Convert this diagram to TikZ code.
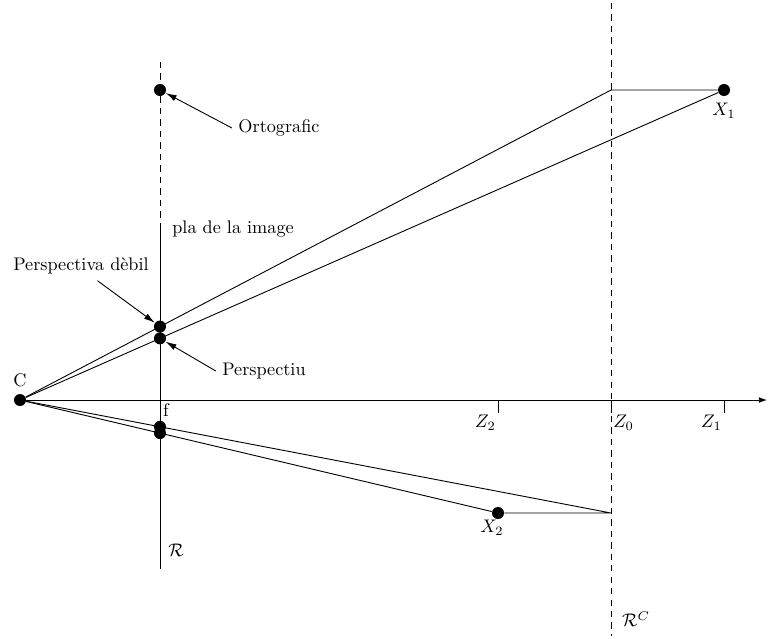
\documentclass[tikz,border=0pt]{standalone}
\usepackage{amsmath}
\usetikzlibrary{positioning,calc,arrows.meta}

\tikzset{
  dot/.style={circle, fill, inner sep=0pt, minimum size=6.6pt},
  plane/.style={dash pattern=on 3.5pt off 2.8pt},
}

\begin{document}
\begin{tikzpicture}[x=0.0193cm, y=-0.0193cm, line width=0.5pt, >={Latex[length=6pt,width=3.4pt]}]
  \useasboundingbox (0,0) rectangle (769,638);
  % centre and optical axis
  \node[dot] (C) at (20,400) {};
  \node (lc) at (20,380) {C};
  \coordinate (axisend) at (767,400);
  \draw[-{Latex[length=4.5pt,width=3.2pt]}] (C) -- (axisend);
  \foreach \z/\x/\anc in {2/498/north east, 0/611/north west, 1/724/north east} {
    \draw (\x,400) -- (\x,413);
    \node[anchor=\anc, inner sep=1pt] (z\z) at (\x,413) {$Z_{\z}$};
  }
  % image plane and the plane through Z0
  \coordinate (ptop) at (160,62);
  \coordinate (pmid) at (160,225);
  \coordinate (pbot) at (160,569);
  \draw[plane] (ptop) -- (pmid);
  \draw (pmid) -- (pbot);
  \coordinate (rtop) at (611,3);
  \coordinate (rbot) at (611,636);
  \draw[plane] (rtop) -- (rbot);
  % object points and rays
  \node[dot] (X1) at (724,90) {};
  \node[dot] (X2) at (498,513) {};
  \coordinate (P1) at (611,90);
  \coordinate (P2) at (611,513);
  \draw (C) -- (P1) -- (X1);
  \draw (C) -- (X1);
  \draw (C) -- (P2) -- (X2);
  \draw (C) -- (X2);
  \node[dot] (deb) at ($(C)!{140/591}!(P1)$) {};
  \node[dot] (per) at ($(C)!{140/704}!(X1)$) {};
  \node[dot] (ort) at (160,90) {};
  \node[dot] (f1) at ($(C)!{140/591}!(P2)$) {};
  \node[dot] (f2) at ($(C)!{140/478}!(X2)$) {};
  % labels
  \node[below=0pt of X1] (lx1) {$X_1$};
  \node (lx2) at (492,528) {$X_2$};
  \node (lf) at (166,410) {f};
  \node (lr) at (176,550) {$\mathcal{R}$};
  \node (lrc) at (636,619) {$\mathcal{R}^C$};
  \node (lpla) at (233,229) {pla de la image};
  \node (lort) at (279,128) {Ortografic};
  \node (ldeb) at (81,266) {Perspectiva d\`{e}bil};
  \node (lper) at (264,371) {Perspectiu};
  \draw[->] (lort.west) -- (ort);
  \draw[->] ([xshift=9pt]ldeb.south) -- (deb);
  \draw[->] (lper.west) -- (per);
\end{tikzpicture}
\end{document}
